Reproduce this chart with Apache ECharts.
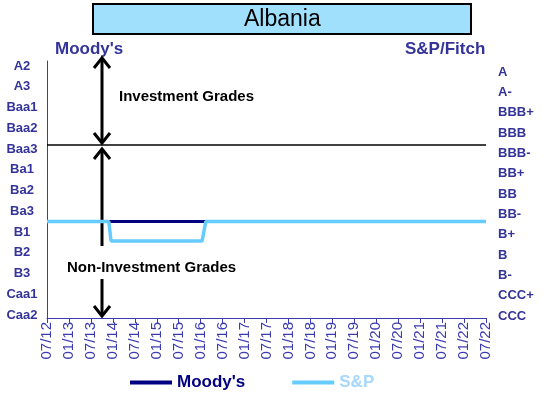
<!DOCTYPE html>
<html>
<head>
<meta charset="utf-8">
<script src="https://cdn.jsdelivr.net/npm/echarts@6/dist/echarts.min.js"></script>
<style>
  html, body { margin: 0; padding: 0; background: #fff; }
  #main { width: 543px; height: 401px; }
</style>
</head>
<body>
<div id="main"></div>
<script>
// tick labels, one every six months
var dateLabels = ['07/12', '01/13', '07/13', '01/14', '07/14', '01/15', '07/15', '01/16', '07/16', '01/17',
  '07/17', '01/18', '07/18', '01/19', '07/19', '01/20', '07/20', '01/21', '07/21', '01/22', '07/22'];
// rating scales, best at the top
var moodysScale = ['A2', 'A3', 'Baa1', 'Baa2', 'Baa3', 'Ba1', 'Ba2', 'Ba3', 'B1', 'B2', 'B3', 'Caa1', 'Caa2'];
var spScale = ['A', 'A-', 'BBB+', 'BBB', 'BBB-', 'BB+', 'BB', 'BB-', 'B+', 'B', 'B-', 'CCC+', 'CCC'];

// months since 07/2012 and rating at that point
var moodysMonths = [0, 120];
var moodysRatings = ['B1', 'B1'];
var spMonths = [0, 16.9, 17.5, 42.4, 43.4, 120];
var spRatings = ['B+', 'B+', 'B', 'B', 'B+', 'B+'];

var investmentFloor = 'Baa3';

function toPoints(months, ratings, scale) {
  return months.map(function (m, i) { return [m, scale.indexOf(ratings[i])]; });
}

var blue = '#333399';
var black = '#000';

function arrowHead(x, y, dir) {
  // dir -1 = pointing up, 1 = pointing down
  return {
    type: 'polyline',
    shape: { points: [[x - 8, y - 10 * dir], [x, y], [x + 8, y - 10 * dir]] },
    style: { stroke: black, lineWidth: 3, fill: null }
  };
}
function shaft(x, y1, y2) {
  return { type: 'line', shape: { x1: x, y1: y1, x2: x, y2: y2 }, style: { stroke: black, lineWidth: 3 } };
}

var ax = 102;

var myChart = echarts.init(document.getElementById('main'));
myChart.setOption({
  animation: false,
  title: {
    text: 'Albania',
    left: 93,
    top: 4,
    padding: [4, 151, 3, 151],
    backgroundColor: '#a0e0fc',
    borderColor: '#000',
    borderWidth: 2,
    textStyle: { fontFamily: 'Liberation Sans', fontWeight: 'normal', fontSize: 23, color: '#000' }
  },
  legend: {
    left: 125,
    top: 369,
    icon: 'rect',
    itemWidth: 42,
    itemHeight: 4,
    itemGap: 47,
    textStyle: { fontFamily: 'Liberation Sans', fontWeight: 'bold', fontSize: 17 },
    data: [
      { name: "Moody's", textStyle: { color: '#000080' } },
      { name: 'S&P', textStyle: { color: '#a6d8ff' } }
    ]
  },
  grid: [
    { left: 47, right: 57, top: 61, bottom: 83 },
    { left: 47, right: 57, top: 55.6, height: 269.8 },
    { left: 47, right: 57, top: 61.8, height: 264.3 }
  ],
  xAxis: [
    {
      type: 'value', gridIndex: 0, min: 0, max: 120, interval: 6,
      splitLine: { show: false },
      axisLine: { onZero: false, lineStyle: { color: '#3b3bb0' } },
      axisTick: { show: true, length: 5, lineStyle: { color: '#3b3bb0' } },
      axisLabel: {
        rotate: 90, margin: 4, color: '#3b3bb0', fontFamily: 'Liberation Sans', fontSize: 15,
        formatter: function (v) { return dateLabels[v / 6]; }
      }
    },
    { type: 'value', gridIndex: 1, show: false },
    { type: 'value', gridIndex: 2, show: false }
  ],
  yAxis: [
    {
      type: 'value', gridIndex: 0, inverse: true, min: -0.33, max: 13,
      splitLine: { show: false },
      axisLine: { show: true, onZero: false, lineStyle: { color: '#3b3bb0' } },
      axisTick: { show: false },
      axisLabel: { show: false }
    },
    {
      type: 'category', gridIndex: 1, inverse: true, data: moodysScale, position: 'left',
      axisLine: { show: false }, axisTick: { show: false }, splitLine: { show: false },
      axisLabel: { align: 'center', margin: 25, color: blue, fontFamily: 'Liberation Sans', fontWeight: 'bold', fontSize: 13 }
    },
    {
      type: 'category', gridIndex: 2, inverse: true, data: spScale, position: 'right',
      axisLine: { show: false }, axisTick: { show: false }, splitLine: { show: false },
      axisLabel: { align: 'left', margin: 12, color: blue, fontFamily: 'Liberation Sans', fontWeight: 'bold', fontSize: 13 }
    }
  ],
  series: [
    {
      name: "Moody's",
      type: 'line',
      xAxisIndex: 0, yAxisIndex: 0,
      symbol: 'none',
      color: '#000080',
      lineStyle: { width: 3, color: '#000080' },
      data: toPoints(moodysMonths, moodysRatings, moodysScale),
      markLine: {
        silent: true,
        symbol: 'none',
        label: { show: false },
        lineStyle: { color: '#000', type: 'solid', width: 1.5 },
        data: [{ yAxis: moodysScale.indexOf(investmentFloor) }]
      }
    },
    {
      name: 'S&P',
      type: 'line',
      xAxisIndex: 0, yAxisIndex: 0,
      symbol: 'none',
      color: '#66ccff',
      lineStyle: { width: 3.5, color: '#66ccff' },
      data: toPoints(spMonths, spRatings, spScale)
    }
  ],
  graphic: [
    { type: 'text', left: 55, top: 41, style: { text: "Moody's", fill: blue, font: 'bold 17px "Liberation Sans"' } },
    { type: 'text', left: 405, top: 41, style: { text: 'S&P/Fitch', fill: blue, font: 'bold 17px "Liberation Sans"' } },
    { type: 'text', left: 119, top: 89, style: { text: 'Investment Grades', fill: black, font: 'bold 15px "Liberation Sans"' } },
    { type: 'text', left: 67, top: 260, style: { text: 'Non-Investment Grades', fill: black, font: 'bold 15px "Liberation Sans"' } },
    shaft(ax, 59, 142), arrowHead(ax, 58, -1), arrowHead(ax, 143, 1),
    shaft(ax, 150, 246), arrowHead(ax, 149, -1),
    shaft(ax, 279, 315), arrowHead(ax, 316, 1)
  ]
});
</script>
</body>
</html>
